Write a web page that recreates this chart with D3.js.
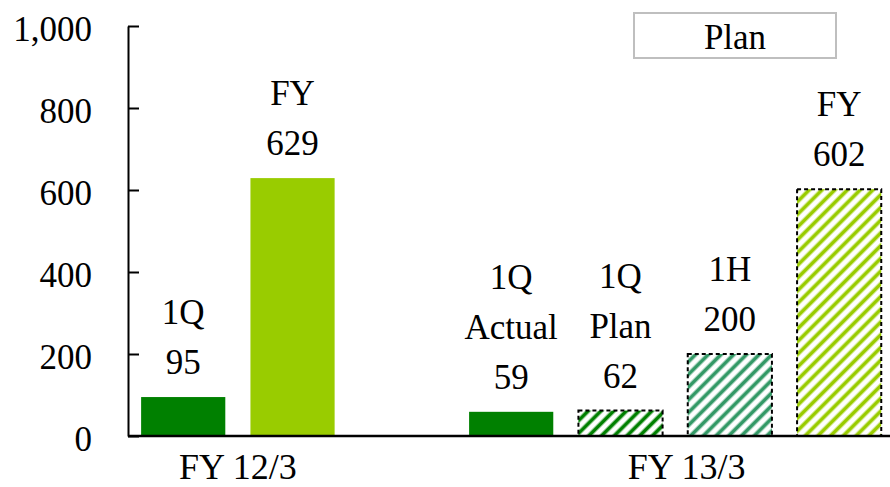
<!DOCTYPE html>
<html>
<head>
<meta charset="utf-8">
<script src="https://cdn.jsdelivr.net/npm/d3@7"></script>
<style>
  text { font-family: 'Liberation Serif'; }
</style>
</head>
<body style="margin:0">
<svg width="890" height="487" font-family="Liberation Serif"></svg>
<script>
// bars in order; the third slot is an empty spacer between the two years
var barKeys = ["q1_12", "fy_12", "gap", "q1_act", "q1_plan", "h1_plan", "fy_plan"];
var barNames = ["1Q", "FY", "", "1Q\nActual", "1Q\nPlan", "1H", "FY"];
var barValues = [95, 629, null, 59, 62, 200, 602];
var barIsPlan = [false, false, false, false, true, true, true];

var groupNames = ["FY 12/3", "FY 13/3"];
var yTicks = [0, 200, 400, 600, 800, 1000];

// styles
var barColors = ["#008000", "#99cc00", null, "#008000", "#008000", "#339966", "#99cc00"];
var FONT = "Liberation Serif";

// every text gets the serif face as attribute and inline style
function serif(sel, size) {
    return sel.attr("font-family", FONT)
        .style("font-family", "'" + FONT + "'")
        .attr("font-size", size);
}

var svg = d3.select("svg"),
    margin = {top: 26, right: 0, bottom: 51, left: 128},
    width = +svg.attr("width") - margin.left - margin.right,
    height = +svg.attr("height") - margin.top - margin.bottom;

var x = d3.scaleBand()
    .domain(barKeys)
    .range([margin.left, margin.left + width])
    .paddingInner(0.23)
    .paddingOuter(0.1)
    .align(0.6);

var y = d3.scaleLinear()
    .domain([0, 1000])
    .range([margin.top + height, margin.top]);

// hatch patterns for plan bars
var defs = svg.append("defs");
barColors.forEach(function(c, i) {
    if (!barIsPlan[i]) return;
    var p = defs.append("pattern")
        .attr("id", "hatch" + i)
        .attr("patternUnits", "userSpaceOnUse")
        .attr("width", 9)
        .attr("height", 9)
        .attr("patternTransform", "rotate(45)");
    p.append("rect").attr("width", 9).attr("height", 9).attr("fill", "#fff");
    p.append("line")
        .attr("x1", 4.5).attr("y1", 0)
        .attr("x2", 4.5).attr("y2", 9)
        .attr("stroke", c)
        .attr("stroke-width", 3.8);
});

var data = barKeys.map(function(k, i) {
    return {key: k, name: barNames[i], value: barValues[i], plan: barIsPlan[i], color: barColors[i], i: i};
}).filter(function(d) { return d.value != null; });

// y axis (lines from d3 axis, labels as plain texts)
var yAxis = svg.append("g")
    .attr("class", "axis axis--y")
    .attr("transform", "translate(" + margin.left + ",0)")
    .call(d3.axisLeft(y).tickValues(yTicks).tickFormat("").tickSizeInner(-11).tickSizeOuter(0));
yAxis.attr("font-family", FONT);
yAxis.select(".domain").attr("stroke", "#000").attr("stroke-width", 2);
yAxis.selectAll(".tick line").attr("stroke", "#000").attr("stroke-width", 2);
yAxis.selectAll(".tick text").remove();

serif(svg.selectAll(".ytick")
    .data(yTicks)
    .enter().append("text")
    .attr("class", "ytick")
    .attr("x", margin.left - 36)
    .attr("y", d => y(d) + 15)
    .attr("text-anchor", "end"), 35)
    .text(d => d3.format(",")(d));

// bars
svg.selectAll(".bar")
    .data(data)
    .enter().append("rect")
    .attr("class", "bar")
    .attr("x", d => x(d.key))
    .attr("y", d => y(d.value))
    .attr("width", x.bandwidth())
    .attr("height", d => y(0) - y(d.value))
    .attr("fill", d => d.plan ? "url(#hatch" + d.i + ")" : d.color)
    .attr("stroke", d => d.plan ? "#000" : "none")
    .attr("stroke-width", 2)
    .attr("stroke-dasharray", "4,3");

// x axis line
svg.append("line")
    .attr("x1", margin.left).attr("x2", margin.left + width)
    .attr("y1", y(0)).attr("y2", y(0))
    .attr("stroke", "#000")
    .attr("stroke-width", 2.5);

// bar labels (name lines + value), one text per line
data.forEach(function(d) {
    var lines = d.name.split("\n").concat([String(d.value)]);
    var cx = x(d.key) + x.bandwidth() / 2;
    var base = y(d.value) - 23;
    lines.forEach(function(l, j) {
        serif(svg.append("text")
            .attr("class", "label")
            .attr("x", cx)
            .attr("y", base - (lines.length - 1 - j) * 50)
            .attr("text-anchor", "middle"), 35)
            .text(l);
    });
});

// group labels under the axis
var groupX = [
    (x("q1_12") + x("fy_12") + x.bandwidth()) / 2,
    (x("q1_act") + margin.left + width) / 2 + 7
];
serif(svg.selectAll(".group-label")
    .data(groupNames)
    .enter().append("text")
    .attr("class", "group-label")
    .attr("text-anchor", "middle")
    .attr("x", (d, i) => groupX[i])
    .attr("y", y(0) + 43), 36)
    .text(d => d);

// legend
svg.append("rect")
    .attr("x", 634).attr("y", 13)
    .attr("width", 202).attr("height", 45)
    .attr("fill", "#fff")
    .attr("stroke", "#bfbfbf")
    .attr("stroke-width", 2);
serif(svg.append("text")
    .attr("x", 735).attr("y", 49)
    .attr("text-anchor", "middle"), 35)
    .text("Plan");
</script>
</body>
</html>
